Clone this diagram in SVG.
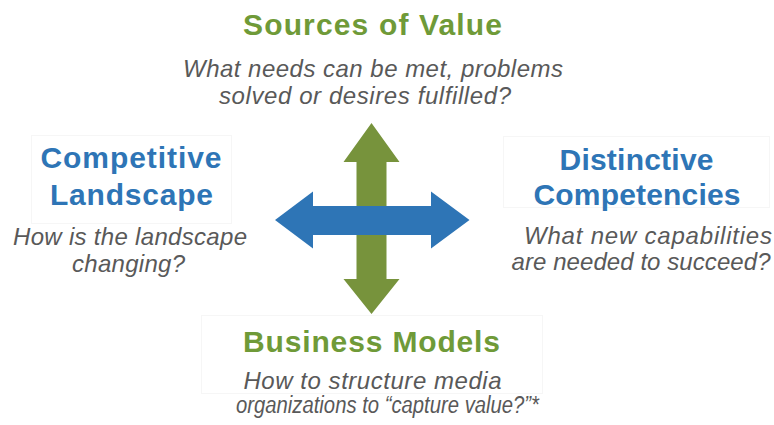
<svg xmlns="http://www.w3.org/2000/svg" width="774" height="425" viewBox="0 0 774 425">
<style>
.title{font-family:"Liberation Sans",Arial,sans-serif;font-weight:bold;font-size:30px;text-anchor:middle}
.green{fill:#6F9A38}
.blue{fill:#2E75B6}
.sub{font-family:"Liberation Sans",Arial,sans-serif;font-style:italic;font-size:24px;fill:#595959;text-anchor:middle}
.small{font-size:23px}
.frame{fill:none;stroke:#f6f6f6;stroke-width:1}
</style>
<rect width="774" height="425" fill="#ffffff"/>
<g id="connectors">
<polygon fill="#77933C" points="371.5,123 399.5,162 386.5,162 386.5,279 399.5,279 371.5,314 343.5,279 356.5,279 356.5,162 343.5,162"/>
<polygon fill="#2E75B6" points="275,220 313,191.5 313,206 431,206 431,191.5 469.5,220 431,248.5 431,235 313,235 313,248.5"/>
</g>
<g id="sources-of-value">
<text class="title green" x="372.5" y="35" textLength="259" lengthAdjust="spacing">Sources of Value</text>
<text class="sub" x="373" y="77" textLength="380" lengthAdjust="spacing">What needs can be met, problems</text>
<text class="sub" x="365" y="104" textLength="292" lengthAdjust="spacing">solved or desires fulfilled?</text>
</g>
<g id="competitive-landscape">
<rect class="frame" x="31.5" y="135.5" width="200" height="88"/>
<text class="title blue" x="131" y="168" textLength="181" lengthAdjust="spacing">Competitive</text>
<text class="title blue" x="131.5" y="205" textLength="163" lengthAdjust="spacing">Landscape</text>
<text class="sub" x="130" y="245" textLength="234" lengthAdjust="spacing">How is the landscape</text>
<text class="sub" x="128.5" y="272" textLength="113" lengthAdjust="spacing">changing?</text>
</g>
<g id="distinctive-competencies">
<rect class="frame" x="503.5" y="136.5" width="266" height="71"/>
<text class="title blue" x="636.5" y="170" textLength="154" lengthAdjust="spacing">Distinctive</text>
<text class="title blue" x="637" y="205" textLength="207" lengthAdjust="spacing">Competencies</text>
<text class="sub" x="648" y="244" textLength="248" lengthAdjust="spacing">What new capabilities</text>
<text class="sub" x="641" y="270" textLength="259" lengthAdjust="spacing">are needed to succeed?</text>
</g>
<g id="business-models">
<rect class="frame" x="201.5" y="315.5" width="341" height="78"/>
<text class="title green" x="371.5" y="352" textLength="257" lengthAdjust="spacing">Business Models</text>
<text class="sub" x="372.5" y="389" textLength="258" lengthAdjust="spacing">How to structure media</text>
<text class="sub small" x="387.5" y="413" textLength="303" lengthAdjust="spacingAndGlyphs">organizations to “capture value?”*</text>
</g>
</svg>
